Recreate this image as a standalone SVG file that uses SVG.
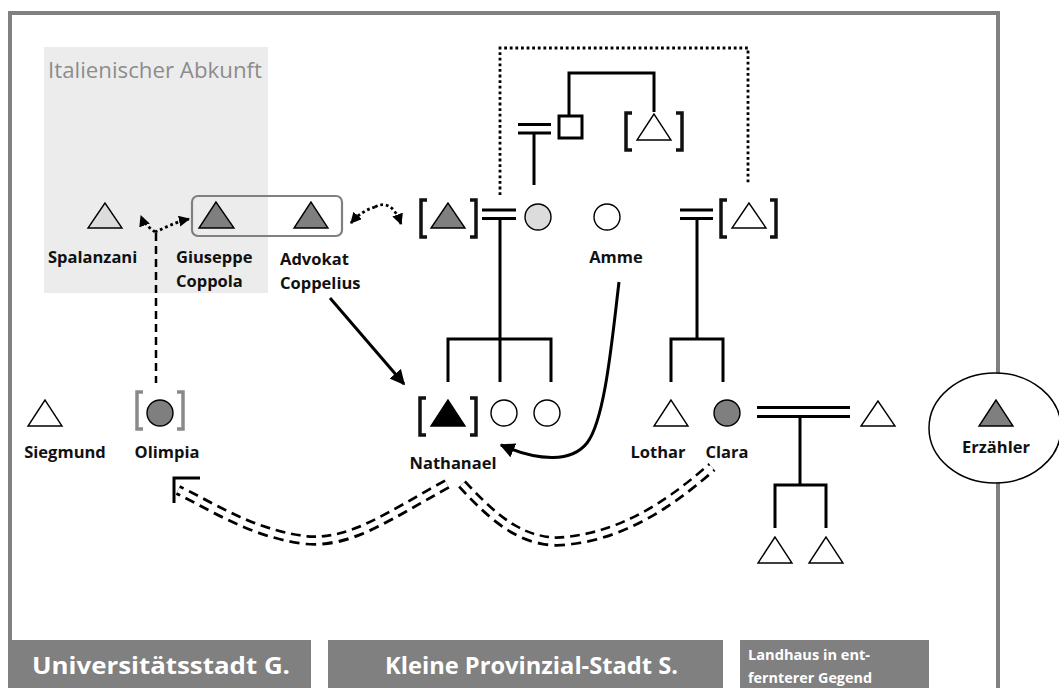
<svg xmlns="http://www.w3.org/2000/svg" width="1059" height="688" viewBox="0 0 1059 688">
<style>
.lbl{font-family:"Open Sans","Liberation Sans",sans-serif;font-weight:bold;font-size:16.5px;fill:#111}
.bar{fill:#808080}
.bartxt{font-family:"Open Sans","Liberation Sans",sans-serif;font-weight:bold;fill:#fff}
.tri{stroke:#000;stroke-width:1.4;stroke-linejoin:miter}
.w{fill:#fff}.lg{fill:#dcdcdc}.dg{fill:#7f7f7f}.bk{fill:#000}
.ln{fill:none;stroke:#000;stroke-width:3}
.br{fill:none;stroke:#111;stroke-width:3.5}
.dot{fill:none;stroke:#000;stroke-width:2.8;stroke-dasharray:2.8 2.8}
.dash{fill:none;stroke:#000;stroke-width:2.5;stroke-dasharray:8 5}
.dd{fill:none;stroke:#000;stroke-width:10.5;stroke-dasharray:10 6}
.ddw{fill:none;stroke:#fff;stroke-width:5}
</style>
<defs>
<marker id="ah" viewBox="0 0 10 10" refX="9" refY="5" markerWidth="5" markerHeight="5" orient="auto" markerUnits="strokeWidth">
<path d="M0,0 L10,5 L0,10 z" fill="#000"/>
</marker>
<marker id="ahs" viewBox="0 0 10 10" refX="9" refY="5" markerWidth="4" markerHeight="4" orient="auto" markerUnits="strokeWidth">
<path d="M0,0 L10,5 L0,10 z" fill="#000"/>
</marker>
</defs>
<rect width="1059" height="688" fill="#fff"/>
<rect x="10" y="13" width="988" height="700" fill="none" stroke="#808080" stroke-width="4"/>
<g id="italienisch">
<rect x="44" y="47" width="224" height="246" fill="#ececec"/>
<text x="48" y="78" font-family="'Open Sans','Liberation Sans',sans-serif" font-size="21.5" fill="#8c8c8c" textLength="214" lengthAdjust="spacingAndGlyphs">Italienischer Abkunft</text>
</g>
<g id="connectors">
<path class="dot" d="M500,195 L500,48 L748,48 L748,183"/>
<path class="ln" d="M518,124.5 H551 M518,133 H551 M534,133 V185"/>
<path class="ln" d="M569,116 V73 H654 V112"/>
<path class="ln" d="M482,210 H516 M482,218.5 H516 M500,218.5 V339 M448,382 V339 H551 V382 M500,339 V382"/>
<path class="ln" d="M680,210 H713 M680,218.5 H713 M697,218.5 V339 M671,382 V339 H723 V382"/>
<path class="ln" d="M757,407.5 H850 M757,416.5 H850 M800,416.5 V485 M775,528 V485 H826 V528"/>
<path class="ln" d="M330,298 L404,384" marker-end="url(#ah)"/>
<path class="ln" d="M619,282 C612,340 605,420 587,443 C572,462 540,462 501,445" marker-end="url(#ah)"/>
<path class="dot" d="M155,232 C150,228 144,224 141,216" marker-end="url(#ahs)"/>
<path class="dot" d="M155,232 C165,228 175,222 189,219" marker-end="url(#ahs)"/>
<path class="dot" d="M375,207 C365,210 358,215 351,223" marker-end="url(#ahs)"/>
<path class="dot" d="M375,207 C388,200 396,210 401,224" marker-end="url(#ahs)"/>
<path class="dash" d="M156,233 V383"/>
<path class="dd" d="M447,484 C390,515 350,545 305,540 C250,533 210,505 178,490"/>
<path class="ddw" d="M447,484 C390,515 350,545 305,540 C250,533 210,505 178,490"/>
<path class="ln" d="M174,503 V478 H200"/>
<path class="dd" d="M462,484 C495,520 525,545 565,541 C630,535 680,495 712,467"/>
<path class="ddw" d="M462,484 C495,520 525,545 565,541 C630,535 680,495 712,467"/>
</g>
<g id="spalanzani">
<polygon class="tri lg" points="105,203 88,228 122,228"/>
<text class="lbl" x="48" y="263">Spalanzani</text>
</g>
<g id="giuseppe-coppelius">
<rect x="192" y="196" width="150" height="40" rx="6" fill="none" stroke="#808080" stroke-width="2.2"/>
<polygon class="tri dg" points="216,202 199,228 234,228"/>
<polygon class="tri dg" points="311,202 294,228 328,228"/>
<text class="lbl" x="176" y="263">Giuseppe</text>
<text class="lbl" x="176" y="287">Coppola</text>
<text class="lbl" x="280" y="265">Advokat</text>
<text class="lbl" x="280" y="289">Coppelius</text>
</g>
<g id="vater">
<path class="br" d="M427,200 H421 V237 H427 M470,200 H476 V237 H470"/>
<polygon class="tri dg" points="448,203 431,228 465,228"/>
</g>
<g id="mutter"><circle class="tri lg" cx="538" cy="217" r="13"/></g>
<g id="grossvater"><rect x="559" y="116" width="23" height="22" fill="#fff" stroke="#000" stroke-width="3"/></g>
<g id="grossonkel">
<path class="br" d="M632,113 H626 V150 H632 M676,113 H682 V150 H676"/>
<polygon class="tri w" points="654,114 637,140 671,140"/>
</g>
<g id="amme">
<circle class="tri w" cx="607" cy="217" r="13"/>
<text class="lbl" x="616" y="263" text-anchor="middle">Amme</text>
</g>
<g id="onkel">
<path class="br" d="M727,200 H721 V237 H727 M770,200 H776 V237 H770"/>
<polygon class="tri w" points="749,203 732,228 766,228"/>
</g>
<g id="nathanael">
<path class="br" d="M426,398 H420 V435 H426 M470,398 H476 V435 H470"/>
<polygon class="tri bk" points="448,400 431,426 465,426"/>
<text class="lbl" x="453" y="469" text-anchor="middle">Nathanael</text>
</g>
<g id="schwester1"><circle class="tri w" cx="504" cy="413" r="13"/></g>
<g id="schwester2"><circle class="tri w" cx="547" cy="413" r="13"/></g>
<g id="lothar">
<polygon class="tri w" points="671,400 654,426 688,426"/>
<text class="lbl" x="658" y="458" text-anchor="middle">Lothar</text>
</g>
<g id="clara">
<circle class="tri dg" cx="727" cy="413" r="13"/>
<text class="lbl" x="727" y="458" text-anchor="middle">Clara</text>
</g>
<g id="claras-mann"><polygon class="tri w" points="878,401 861,426 895,426"/></g>
<g id="kind1"><polygon class="tri w" points="775,537 758,563 792,563"/></g>
<g id="kind2"><polygon class="tri w" points="826,537 809,563 843,563"/></g>
<g id="siegmund">
<polygon class="tri w" points="45,400 28,426 62,426"/>
<text class="lbl" x="65" y="458" text-anchor="middle">Siegmund</text>
</g>
<g id="olimpia">
<path fill="none" stroke="#8a8a8a" stroke-width="3.5" d="M143,392 H137 V429 H143 M177,392 H183 V429 H177"/>
<circle class="tri dg" cx="160" cy="413" r="13"/>
<text class="lbl" x="167" y="458" text-anchor="middle">Olimpia</text>
</g>
<g id="erzaehler">
<ellipse cx="995" cy="428" rx="66" ry="55" fill="#fff" stroke="#000" stroke-width="1.5"/>
<polygon class="tri dg" points="996,400 979,426 1013,426"/>
<text class="lbl" x="996" y="453" text-anchor="middle">Erzähler</text>
</g>
<g id="universitaetsstadt">
<rect class="bar" x="12" y="640" width="299" height="50"/>
<text class="bartxt" x="32" y="674" font-size="24" textLength="258" lengthAdjust="spacingAndGlyphs">Universitätsstadt G.</text>
</g>
<g id="provinzialstadt">
<rect class="bar" x="328" y="640" width="395" height="50"/>
<text class="bartxt" x="385" y="674" font-size="24" textLength="293" lengthAdjust="spacingAndGlyphs">Kleine Provinzial-Stadt S.</text>
</g>
<g id="landhaus">
<rect class="bar" x="740" y="640" width="189" height="50"/>
<text class="bartxt" x="748" y="660" font-size="15" textLength="122" lengthAdjust="spacingAndGlyphs">Landhaus in ent-</text>
<text class="bartxt" x="748" y="683" font-size="15" textLength="124" lengthAdjust="spacingAndGlyphs">fernterer Gegend</text>
</g>
</svg>
